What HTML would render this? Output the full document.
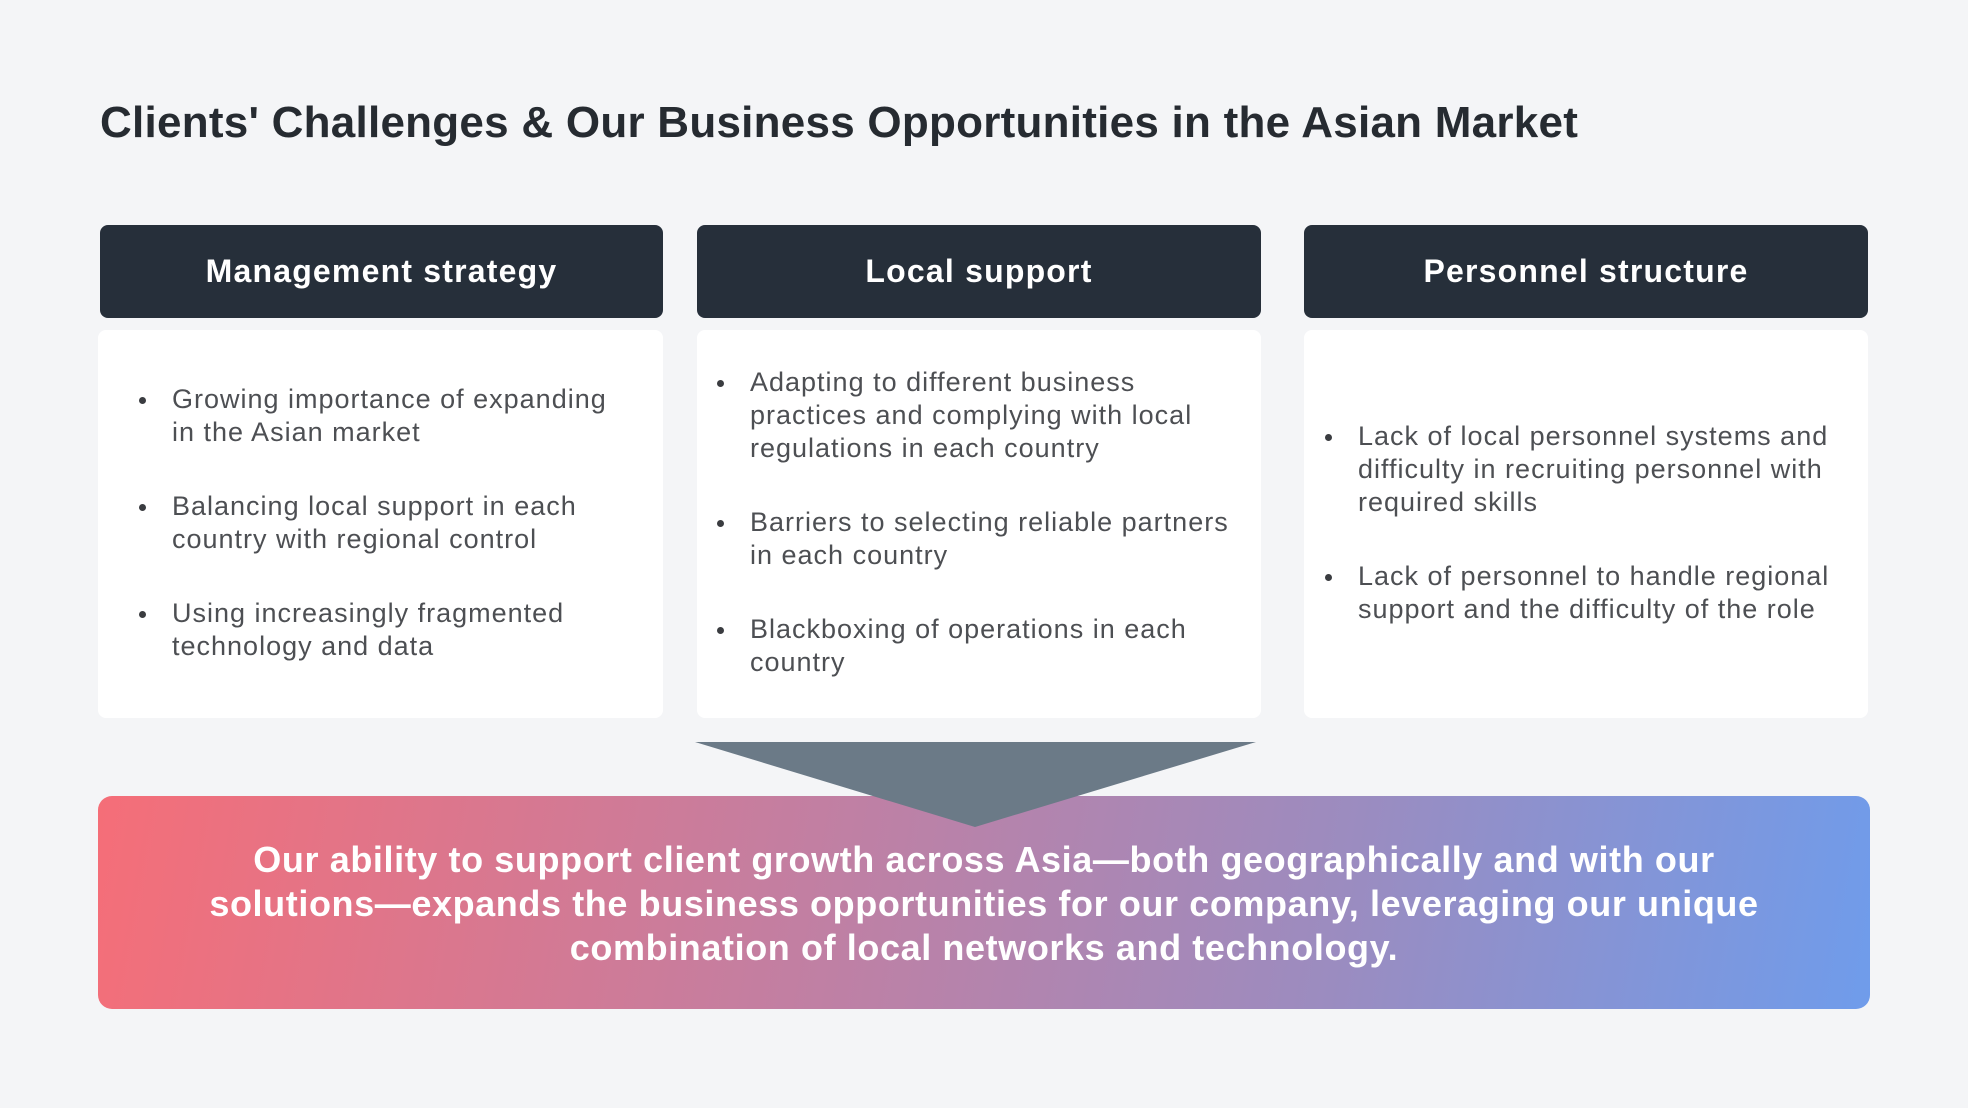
<!DOCTYPE html>
<html><head><meta charset="utf-8"><style>
*{margin:0;padding:0;box-sizing:border-box}
body{width:1968px;height:1108px;background:#f4f5f7;font-family:"Liberation Sans",sans-serif;position:relative;overflow:hidden}
.title{position:absolute;left:100px;top:98px;font-size:44px;font-weight:bold;color:#262b31;white-space:nowrap;letter-spacing:0.25px}
.hd{position:absolute;top:225px;height:93px;background:#262f3a;border-radius:8px;color:#fff;font-weight:bold;font-size:32px;letter-spacing:1.2px;display:flex;align-items:center;justify-content:center}
.card{position:absolute;top:330px;height:388px;background:#fff;border-radius:8px}
ul{position:absolute;list-style:none;color:#4d4f53;font-size:27px;line-height:33px;letter-spacing:1px}
li{position:relative;padding-left:37px;margin-bottom:41px;white-space:nowrap}
li:before{content:"";position:absolute;left:4px;top:14px;width:7px;height:7px;border-radius:50%;background:#3a3c40}
.banner{position:absolute;left:98px;top:796px;width:1772px;height:213px;border-radius:14px;background:linear-gradient(100deg,#f56e78 0%,#c27fa2 40%,#9b8cc0 70%,#6f9ceb 100%);color:#fff;font-weight:bold;font-size:36px;letter-spacing:0.6px;line-height:44px;text-align:center;padding-top:42px}
</style></head><body>
<div class="title">Clients' Challenges &amp; Our Business Opportunities in the Asian Market</div>
<div class="hd" style="left:100px;width:563px">Management strategy</div>
<div class="hd" style="left:697px;width:564px">Local support</div>
<div class="hd" style="left:1304px;width:564px">Personnel structure</div>
<div class="card" style="left:98px;width:565px"></div>
<div class="card" style="left:697px;width:564px"></div>
<div class="card" style="left:1304px;width:564px"></div>
<ul style="left:135px;top:383px">
<li>Growing importance of expanding<br>in the Asian market</li>
<li>Balancing local support in each<br>country with regional control</li>
<li>Using increasingly fragmented<br>technology and data</li>
</ul>
<ul style="left:713px;top:366px">
<li>Adapting to different business<br>practices and complying with local<br>regulations in each country</li>
<li>Barriers to selecting reliable partners<br>in each country</li>
<li>Blackboxing of operations in each<br>country</li>
</ul>
<ul style="left:1321px;top:420px">
<li>Lack of local personnel systems and<br>difficulty in recruiting personnel with<br>required skills</li>
<li>Lack of personnel to handle regional<br>support and the difficulty of the role</li>
</ul>
<div class="banner">Our ability to support client growth across Asia—both geographically and with our<br>solutions—expands the business opportunities for our company, leveraging our unique<br>combination of local networks and technology.</div>
<svg style="position:absolute;left:0;top:0" width="1968" height="1108"><polygon points="695,742 1256,742 975,827" fill="#6b7a87"/></svg>
</body></html>
